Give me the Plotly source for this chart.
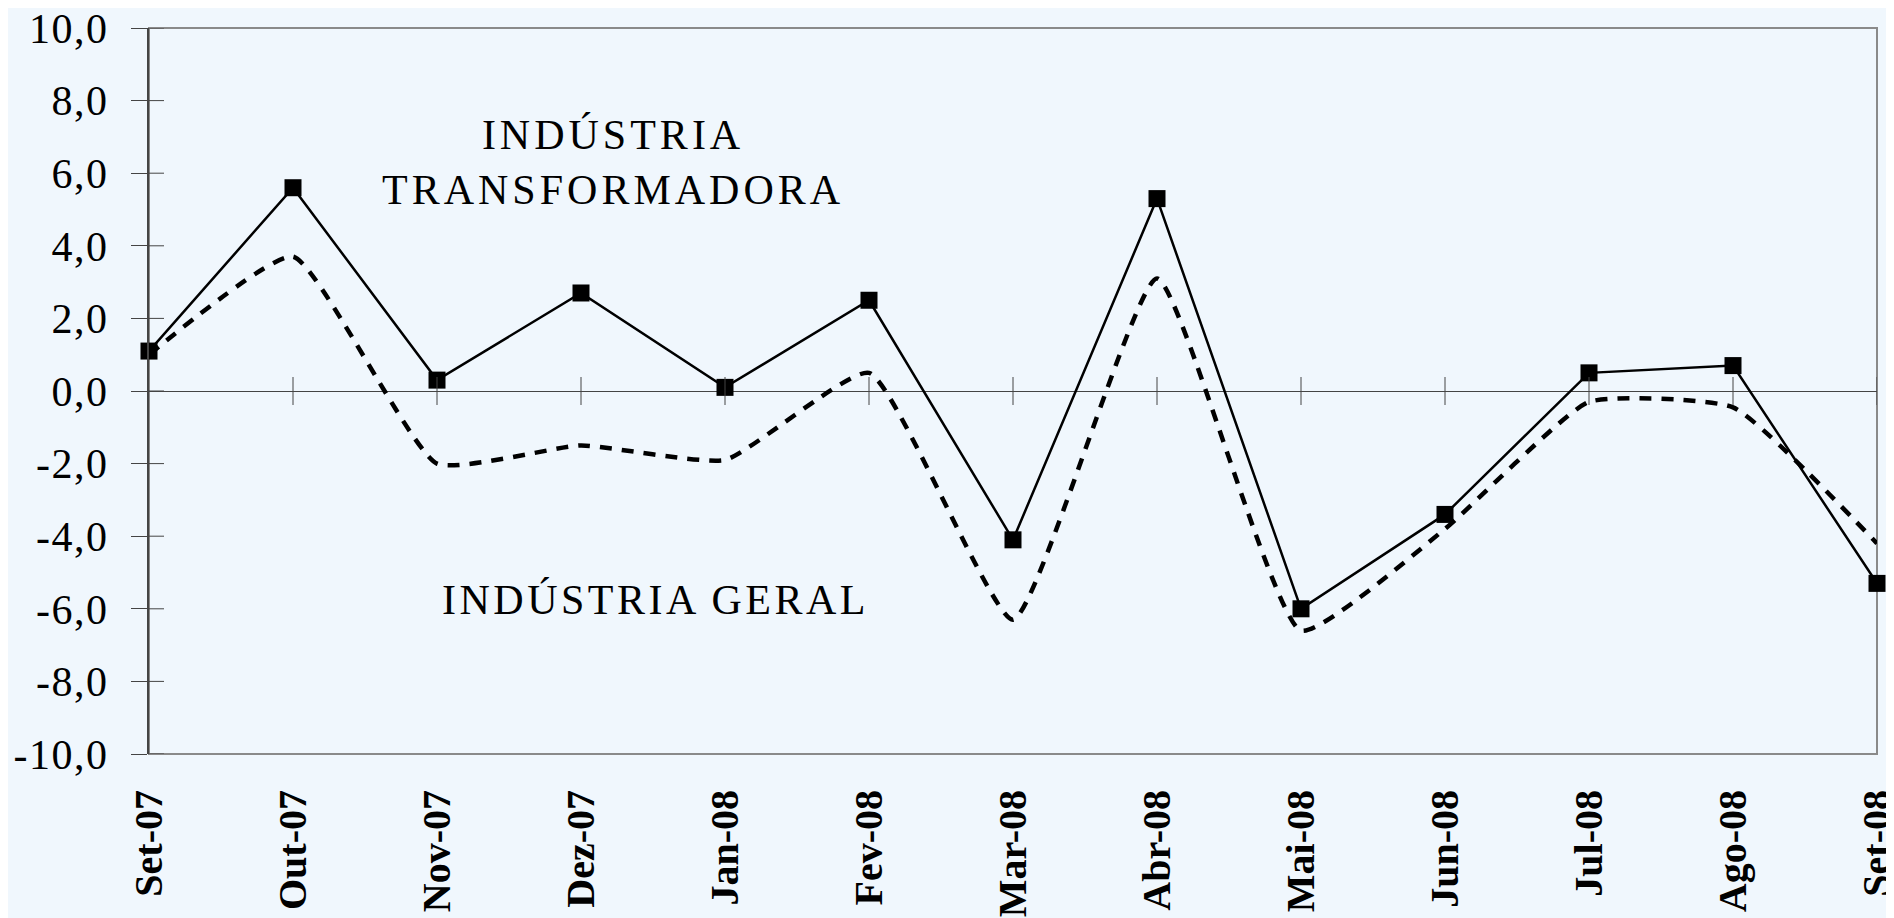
import plotly.graph_objects as go

months = ["Set-07", "Out-07", "Nov-07", "Dez-07", "Jan-08", "Fev-08", "Mar-08",
          "Abr-08", "Mai-08", "Jun-08", "Jul-08", "Ago-08", "Set-08"]
transformadora = [1.1, 5.6, 0.3, 2.7, 0.1, 2.5, -4.1, 5.3, -6.0, -3.4, 0.5, 0.7, -5.3]
geral = [1.0, 3.7, -2.0, -1.5, -1.9, 0.5, -6.3, 3.1, -6.6, -3.8, -0.3, -0.45, -4.2]
y_ticks = [-10, -8, -6, -4, -2, 0, 2, 4, 6, 8, 10]
y_ticktext = ['<span style="letter-spacing:1.5px">%s</span>' % (f"{v:.1f}".replace(".", ","))
              for v in y_ticks]

BG = "#F0F7FD"
SERIF = "Liberation Serif, Times New Roman, serif"
TICK = "#444"

fig = go.Figure()
fig.add_trace(go.Scatter(
    x=months, y=geral, mode="lines", name="Indústria Geral",
    line=dict(color="black", width=4.5, dash="12px,10px", shape="spline", smoothing=0.45),
    cliponaxis=False, showlegend=False))
fig.add_trace(go.Scatter(
    x=months, y=transformadora, mode="lines+markers", name="Indústria Transformadora",
    line=dict(color="black", width=2.5),
    marker=dict(symbol="square", size=17, color="black"),
    cliponaxis=False, showlegend=False))

shapes = [dict(type="rect", xref="paper", yref="paper", x0=0, x1=1, y0=0, y1=1,
               line=dict(color="#8a8a8a", width=2), layer="below")]
# cross ticks on the zero line for every month after the first
for m in months[1:]:
    shapes.append(dict(type="line", xref="x", yref="y", ysizemode="pixel", yanchor=0,
                       x0=m, x1=m, y0=-14, y1=14, line=dict(color=TICK, width=1)))
# inside part of the y-axis ticks
for v in y_ticks:
    shapes.append(dict(type="line", xref="paper", yref="y", xsizemode="pixel", xanchor=0,
                       x0=0, x1=15, y0=v, y1=v, line=dict(color=TICK, width=1)))

fig.update_layout(
    width=1886, height=910,
    margin=dict(l=141, r=17, t=20, b=164, autoexpand=False),
    paper_bgcolor=BG, plot_bgcolor=BG,
    font=dict(family=SERIF, color="black"),
    xaxis=dict(type="category", categoryorder="array", categoryarray=months,
               range=[0, 12], showgrid=False, zeroline=False, showline=False,
               automargin=False, ticklabeloverflow="allow",
               ticks="", tickangle=-90, ticklabelstandoff=27,
               tickfont=dict(family=SERIF, size=40, weight="bold", color="black")),
    yaxis=dict(range=[-10, 10], tickvals=y_ticks, ticktext=y_ticktext,
               showgrid=False, zeroline=True, zerolinecolor=TICK, zerolinewidth=1,
               showline=True, linecolor="#444", linewidth=2, automargin=False,
               ticklabeloverflow="allow",
               ticks="outside", ticklen=16, tickcolor=TICK, tickwidth=1,
               ticklabelstandoff=14,
               tickfont=dict(family=SERIF, size=42, color="black")),
    shapes=shapes,
    annotations=[
        dict(x=3.22, y=6.3, xref="x", yref="y", showarrow=False,
             text='<span style="letter-spacing:4px">INDÚSTRIA</span><br>'
                  '<span style="letter-spacing:4px">TRANSFORMADORA</span>',
             font=dict(family=SERIF, size=42, color="black"), align="center"),
        dict(x=3.52, y=-5.76, xref="x", yref="y", showarrow=False,
             text='<span style="letter-spacing:3.5px">INDÚSTRIA GERAL</span>',
             font=dict(family=SERIF, size=42, color="black"), align="center"),
    ],
)

fig.write_html("out.html")
